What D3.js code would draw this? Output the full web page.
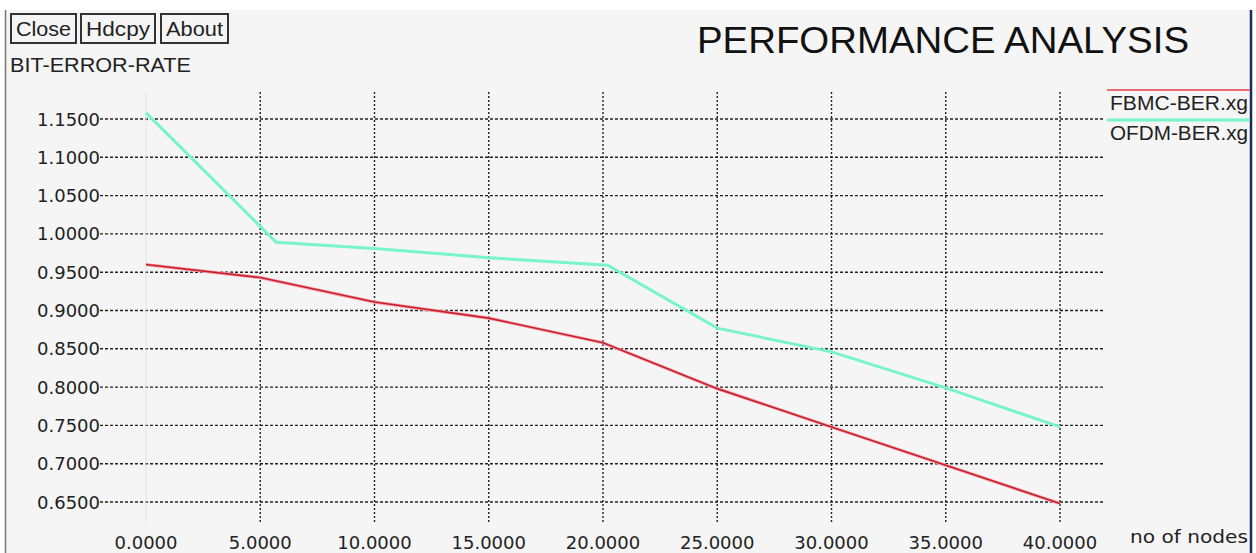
<!DOCTYPE html>
<html>
<head>
<meta charset="utf-8">
<script src="https://cdn.jsdelivr.net/npm/d3@7"></script>
<style>
  html, body { margin: 0; padding: 0; background: #ffffff; }
  svg { display: block; }
</style>
</head>
<body>
<svg id="chart" width="1256" height="553"></svg>
<script>
// ---- data ----
const xTicks = [0, 5, 10, 15, 20, 25, 30, 35, 40];
const yTicks = [0.65, 0.70, 0.75, 0.80, 0.85, 0.90, 0.95, 1.00, 1.05, 1.10, 1.15];
const fbmcX = [0, 5, 10, 15, 20, 25, 30, 35, 40];
const fbmcY = [0.96, 0.943, 0.911, 0.89, 0.858, 0.798, 0.748, 0.698, 0.648];
const ofdmX = [0, 5.7, 10, 15, 20.2, 25, 30, 35, 40];
const ofdmY = [1.158, 0.989, 0.981, 0.969, 0.959, 0.877, 0.846, 0.799, 0.748];
const seriesNames = ["FBMC-BER.xg", "OFDM-BER.xg"];
const seriesColors = ["#e2303a", "#78f4cc"];
const buttons = ["Close", "Hdcpy", "About"];

const svg = d3.select("#chart");
const font = "'Liberation Sans', Arial, sans-serif";
const tickFont = "'DejaVu Sans', sans-serif";

// frame
svg.append("rect").attr("x", 0).attr("y", 0).attr("width", 1256).attr("height", 553).attr("fill", "#ffffff");
svg.append("rect").attr("x", 5).attr("y", 10).attr("width", 1246).attr("height", 543).attr("fill", "#f5f5f5");
svg.append("line").attr("x1", 5.5).attr("x2", 5.5).attr("y1", 10).attr("y2", 553).attr("stroke", "#777").attr("stroke-width", 1.5);
svg.append("line").attr("x1", 1251).attr("x2", 1251).attr("y1", 10).attr("y2", 553).attr("stroke", "#1c2a55").attr("stroke-width", 2.5);

// scales
const x = d3.scaleLinear().domain([0, 40]).range([146, 1060]);
const y = d3.scaleLinear().domain([0.65, 1.15]).range([502, 119]);
const gridLeft = 100, gridRight = 1103, gridTop = 92, gridBottom = 523;

// horizontal grid
svg.append("g").selectAll("line").data(yTicks).join("line")
  .attr("x1", gridLeft).attr("x2", gridRight)
  .attr("y1", d => y(d)).attr("y2", d => y(d))
  .attr("stroke", "#222").attr("stroke-width", 1.4).attr("stroke-dasharray", "3,2");
// vertical grid
svg.append("g").selectAll("line").data(xTicks).join("line")
  .attr("x1", d => x(d)).attr("x2", d => x(d))
  .attr("y1", gridTop).attr("y2", gridBottom)
  .attr("stroke", d => d === 0 ? "#e4e4e4" : "#222")
  .attr("stroke-width", d => d === 0 ? 1 : 1.4)
  .attr("stroke-dasharray", d => d === 0 ? null : "2,2");

// tick labels
svg.append("g").selectAll("text").data(yTicks).join("text")
  .attr("x", 100).attr("y", d => y(d) + 6.5)
  .attr("text-anchor", "end")
  .attr("font-family", tickFont).attr("font-size", 18).attr("fill", "#222")
  .text(d => d.toFixed(4));
svg.append("g").selectAll("text").data(xTicks).join("text")
  .attr("x", d => x(d)).attr("y", 549)
  .attr("text-anchor", "middle")
  .attr("font-family", tickFont).attr("font-size", 18).attr("fill", "#222")
  .text(d => d.toFixed(4));

// lines
const line = d3.line().x(d => x(d[0])).y(d => y(d[1]));
const series = [d3.zip(fbmcX, fbmcY), d3.zip(ofdmX, ofdmY)];
svg.append("path").datum(series[1]).attr("d", line).attr("fill", "none")
  .attr("stroke", seriesColors[1]).attr("stroke-width", 3);
svg.append("path").datum(series[0]).attr("d", line).attr("fill", "none")
  .attr("stroke", "#f4a0a8").attr("stroke-width", 3.2);
svg.append("path").datum(series[0]).attr("d", line).attr("fill", "none")
  .attr("stroke", "#c8202e").attr("stroke-width", 1.6);

// legend
seriesNames.forEach((n, i) => {
  const ly = 90 + i * 30;
  svg.append("line").attr("x1", 1107).attr("x2", 1250).attr("y1", ly).attr("y2", ly)
    .attr("stroke", i === 0 ? "#ee6a72" : seriesColors[1]).attr("stroke-width", i === 0 ? 2 : 3);
  svg.append("text").attr("x", 1110).attr("y", ly + 20)
    .attr("font-family", font).attr("font-size", 20).attr("fill", "#222")
    .attr("textLength", 138).attr("lengthAdjust", "spacingAndGlyphs")
    .text(n);
});

// buttons
const bx = [11, 81, 161], bw = [65, 74, 67];
buttons.forEach((b, i) => {
  svg.append("rect").attr("x", bx[i]).attr("y", 14).attr("width", bw[i]).attr("height", 29)
    .attr("fill", "#f5f5f5").attr("stroke", "#333").attr("stroke-width", 2);
  svg.append("text").attr("x", bx[i] + 5).attr("y", 36)
    .attr("font-family", font).attr("font-size", 21).attr("fill", "#222")
    .attr("textLength", bw[i] - 10).attr("lengthAdjust", "spacingAndGlyphs")
    .text(b);
});

// axis titles
svg.append("text").attr("x", 10).attr("y", 72)
  .attr("font-family", font).attr("font-size", 21).attr("fill", "#222")
  .attr("textLength", 181).attr("lengthAdjust", "spacingAndGlyphs")
  .text("BIT-ERROR-RATE");
svg.append("text").attr("x", 1130).attr("y", 543)
  .attr("font-family", tickFont).attr("font-size", 18).attr("fill", "#222")
  .attr("textLength", 118).attr("lengthAdjust", "spacingAndGlyphs")
  .text("no of nodes");

// title
svg.append("text").attr("x", 697).attr("y", 53)
  .attr("font-family", font).attr("font-size", 36).attr("fill", "#111")
  .attr("textLength", 492).attr("lengthAdjust", "spacingAndGlyphs")
  .text("PERFORMANCE ANALYSIS");
</script>
</body>
</html>
